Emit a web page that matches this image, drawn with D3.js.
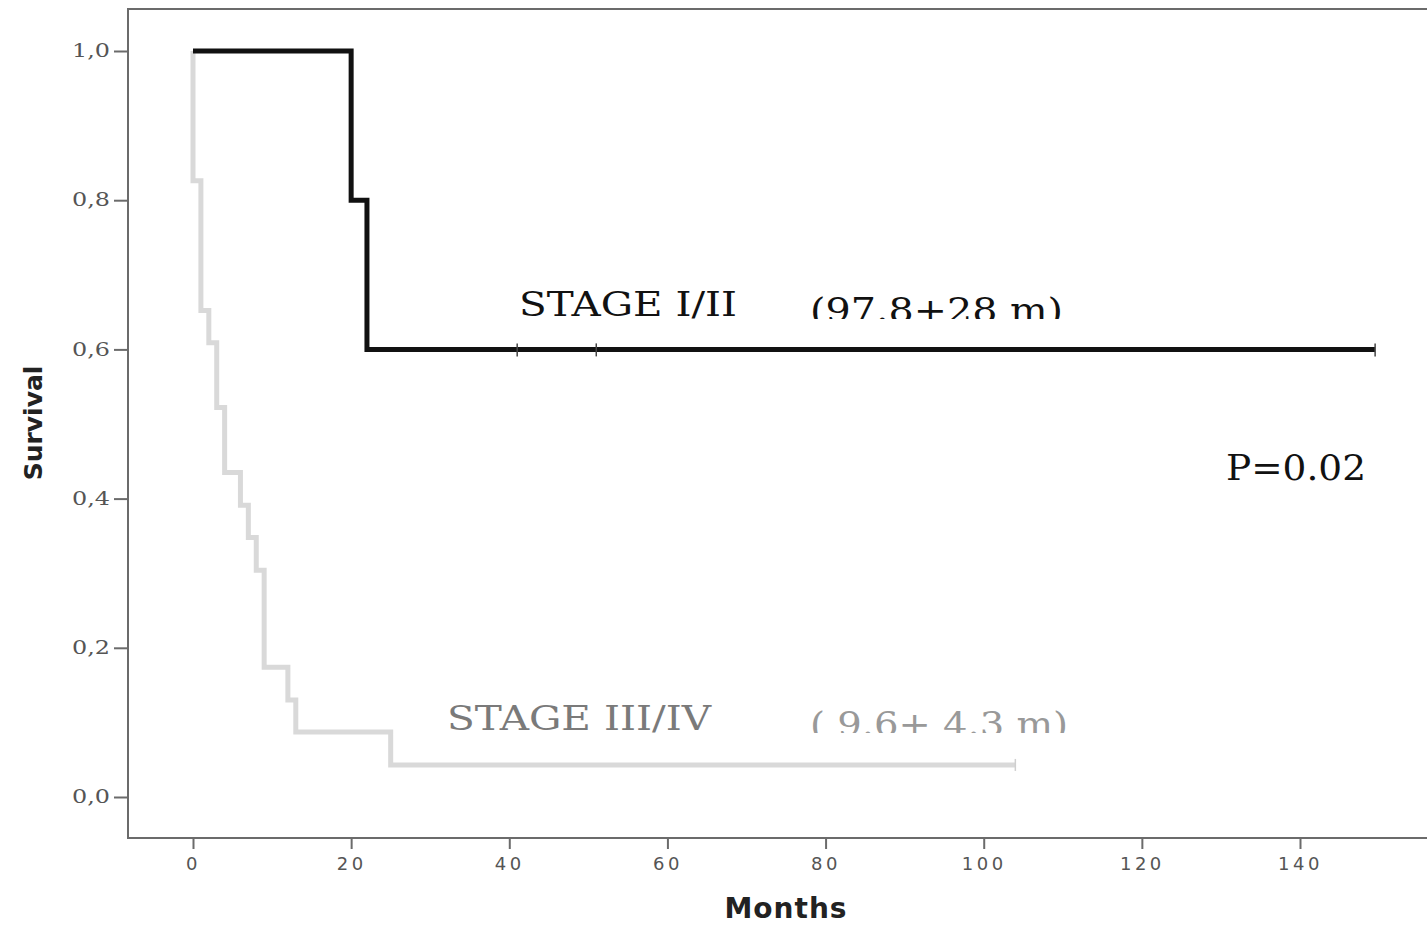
<!DOCTYPE html>
<html>
<head>
<meta charset="utf-8">
<script src="https://cdn.jsdelivr.net/npm/d3@7"></script>
<style>
  html, body { margin: 0; padding: 0; background: #fff; }
  svg { display: block; }
</style>
</head>
<body>
<svg id="chart" width="1427" height="925"></svg>
<script>
// Kaplan–Meier survival by stage
const earlyTimes = [0, 20, 22];
const earlySurvival = [1.0, 0.8, 0.6];
const earlyEnd = 149.5;
const earlyCensored = [41, 51, 149.5];

const lateTimes = [0, 0, 1, 2, 3, 4, 6, 7, 8, 9, 12, 13, 25];
const lateSurvival = [1.0, 0.826, 0.652, 0.609, 0.522, 0.435, 0.391, 0.348, 0.304, 0.174, 0.130, 0.087, 0.043];
const lateEnd = 104;
const lateCensored = [104];

const xTicks = [0, 20, 40, 60, 80, 100, 120, 140];
const yTicks = [0.0, 0.2, 0.4, 0.6, 0.8, 1.0];
const yTickLabels = ["0,0", "0,2", "0,4", "0,6", "0,8", "1,0"];

const svg = d3.select("#chart");

const x = d3.scaleLinear().domain([0, 140]).range([193, 1300]);
const y = d3.scaleLinear().domain([0, 1]).range([797, 51]);

const frameLeft = 128, frameTop = 9, frameBottom = 838, frameRight = 1440;

// plot frame
svg.append("path")
  .attr("d", `M${frameRight},${frameTop}H${frameLeft}V${frameBottom}H${frameRight}`)
  .attr("fill", "none").attr("stroke", "#6b6b6b").attr("stroke-width", 2);

// y axis
const yAxis = d3.axisLeft(y).tickValues(yTicks)
  .tickFormat((d, i) => yTickLabels[i]).tickSize(14).tickPadding(4);
const gy = svg.append("g").attr("transform", `translate(${frameLeft},0)`).call(yAxis);
gy.select(".domain").remove();
gy.selectAll(".tick line").attr("stroke", "#6b6b6b").attr("stroke-width", 2);
gy.selectAll(".tick text")
  .attr("font-family", "DejaVu Serif").attr("font-size", 18)
  .attr("fill", "#555").attr("textLength", 38).attr("lengthAdjust", "spacingAndGlyphs");

// x axis
const xAxis = d3.axisBottom(x).tickValues(xTicks).tickSize(11).tickPadding(8);
const gx = svg.append("g").attr("transform", `translate(0,${frameBottom})`).call(xAxis);
gx.select(".domain").remove();
gx.selectAll(".tick line").attr("stroke", "#6b6b6b").attr("stroke-width", 2);
gx.selectAll(".tick text")
  .attr("font-family", "DejaVu Sans").attr("font-size", 18)
  .attr("fill", "#555").attr("letter-spacing", 3.5);

// axis titles
svg.append("text").attr("x", 786).attr("y", 918)
  .attr("text-anchor", "middle")
  .attr("font-family", "DejaVu Sans").attr("font-weight", "bold")
  .attr("font-size", 28).attr("fill", "#222").attr("letter-spacing", 1)
  .text("Months");
svg.append("text")
  .attr("transform", "translate(42,423) rotate(-90)")
  .attr("text-anchor", "middle")
  .attr("font-family", "DejaVu Sans").attr("font-weight", "bold")
  .attr("font-size", 25).attr("fill", "#222")
  .text("Survival");

// survival step curves
const step = d3.line().x(d => x(d[0])).y(d => y(d[1])).curve(d3.curveStepAfter);
function curvePoints(times, surv, end) {
  const pts = times.map((t, i) => [t, surv[i]]);
  pts.push([end, surv[surv.length - 1]]);
  return pts;
}

svg.append("path")
  .attr("d", step(curvePoints(lateTimes, lateSurvival, lateEnd)))
  .attr("fill", "none").attr("stroke", "#d9d9d9").attr("stroke-width", 5);
svg.append("path")
  .attr("d", step(curvePoints(earlyTimes, earlySurvival, earlyEnd)))
  .attr("fill", "none").attr("stroke", "#111").attr("stroke-width", 5);

// censor marks
svg.selectAll(".cens-late").data(lateCensored).join("line")
  .attr("x1", d => x(d)).attr("x2", d => x(d))
  .attr("y1", y(lateSurvival[lateSurvival.length - 1]) - 6)
  .attr("y2", y(lateSurvival[lateSurvival.length - 1]) + 6)
  .attr("stroke", "#cfcfcf").attr("stroke-width", 1.5);
svg.selectAll(".cens-early").data(earlyCensored).join("line")
  .attr("x1", d => x(d)).attr("x2", d => x(d))
  .attr("y1", y(earlySurvival[earlySurvival.length - 1]) - 6)
  .attr("y2", y(earlySurvival[earlySurvival.length - 1]) + 7)
  .attr("stroke", "#444").attr("stroke-width", 1.5);

// annotations
const defs = svg.append("defs");
defs.append("clipPath").attr("id", "clipEarly")
  .append("rect").attr("x", 700).attr("y", 270).attr("width", 500).attr("height", 49);
defs.append("clipPath").attr("id", "clipLate")
  .append("rect").attr("x", 700).attr("y", 684).attr("width", 500).attr("height", 49);

function label(txt, x0, yb, size, len, color, clip) {
  const t = svg.append("text").attr("x", x0).attr("y", yb)
    .attr("font-family", "DejaVu Serif").attr("font-size", size)
    .attr("fill", color)
    .attr("textLength", len).attr("lengthAdjust", "spacingAndGlyphs")
    .text(txt);
  if (clip) t.attr("clip-path", `url(#${clip})`);
  return t;
}
label("STAGE I/II", 519, 316, 34, 218, "#111");
label("(97.8+28 m)", 810, 322, 34, 253, "#111", "clipEarly");
label("P=0.02", 1226, 480, 36, 140, "#111");
label("STAGE III/IV", 447, 730, 34, 264, "#7a7a7a");
label("( 9.6+ 4.3 m)", 810, 736, 34, 258, "#999", "clipLate");
</script>
</body>
</html>
